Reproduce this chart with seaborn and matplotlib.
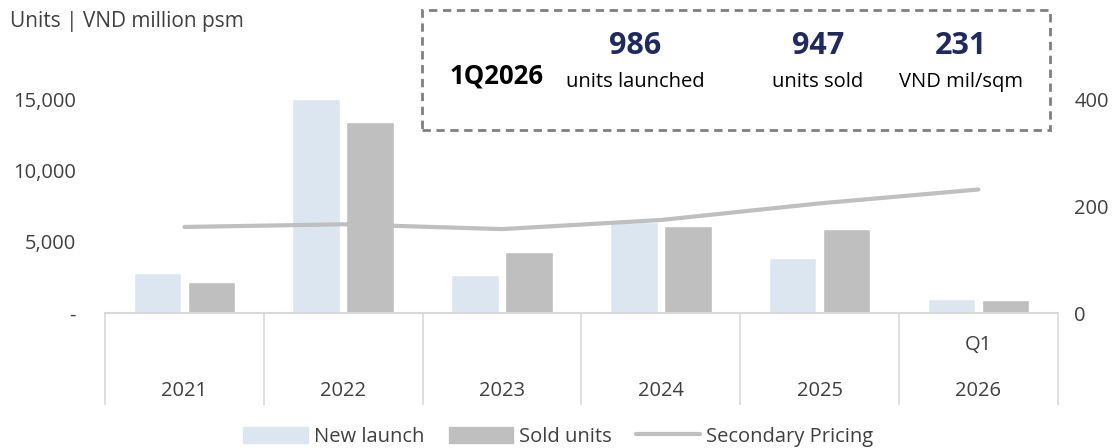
import pandas as pd
import numpy as np
import matplotlib.pyplot as plt
import matplotlib.transforms as mtransforms
from matplotlib.patches import Rectangle, Patch
from matplotlib.lines import Line2D
from matplotlib.ticker import FuncFormatter
import seaborn as sns

# data
years = ["2021", "2022", "2023", "2024", "2025", "2026"]
new_launch = [2800, 15000, 2700, 6350, 3850, 986]
sold_units = [2200, 13400, 4300, 6100, 5900, 947]
secondary_price = [161, 166, 157, 174, 205, 231]
sub_labels = ["", "", "", "", "", "Q1"]

summary_period = "1Q2026"
summary_values = ["986", "947", "231"]
summary_labels = ["units launched", "units sold", "VND mil/sqm"]

sns.set_theme(style="white")
plt.rcParams["font.family"] = ["Open Sans", "DejaVu Sans"]

text_col = "#404040"
blue_col = "#dce6f1"
grey_col = "#bfbfbf"
line_col = "#d9d9d9"
navy = "#1f2a5e"

df = pd.DataFrame({
    "year": years * 2,
    "units": new_launch + sold_units,
    "series": ["New launch"] * len(years) + ["Sold units"] * len(years),
})
price_df = pd.DataFrame({"pos": range(len(years)), "price": secondary_price})

fig = plt.figure(figsize=(11.17, 4.48), dpi=100)
ax = fig.add_axes([0.094, 0.301, 0.853, 0.478])

sns.barplot(data=df, x="year", y="units", hue="series", order=years,
            palette=[blue_col, grey_col], width=0.68, gap=0.12,
            saturation=1, legend=False, ax=ax)
ax.set_xlim(-0.5, len(years) - 0.5)
ax.set_ylim(0, 15000)
ax.set_yticks([0, 5000, 10000, 15000])
ax.yaxis.set_major_formatter(FuncFormatter(lambda v, p: "-" if v == 0 else f"{int(v):,}"))
ax.set_xticks([])
ax.set_xlabel("")
ax.set_ylabel("")
ax.tick_params(axis="y", length=0, pad=21, labelsize=14.5, labelcolor=text_col)

ax2 = ax.twinx()
sns.lineplot(data=price_df, x="pos", y="price", color=grey_col, linewidth=3,
             ax=ax2, legend=False)
ax2.set_ylim(0, 400)
ax2.set_yticks([0, 200, 400])
ax2.set_ylabel("")
ax2.set_xlabel("")
ax2.tick_params(axis="y", length=0, pad=12, labelsize=14.5, labelcolor=text_col)

for a in (ax, ax2):
    for s in ["top", "left", "right", "bottom"]:
        a.spines[s].set_visible(False)
ax.spines["bottom"].set_visible(True)
ax.spines["bottom"].set_color(line_col)
ax.spines["bottom"].set_linewidth(1.5)

# category separators and labels below the axis
trans = mtransforms.blended_transform_factory(ax.transData, ax.transAxes)
ax.vlines(np.arange(len(years) + 1) - 0.5, -0.43, 0, transform=trans,
          color=line_col, lw=1.2, clip_on=False)
for i, (yr, sub) in enumerate(zip(years, sub_labels)):
    ax.text(i, -0.365, yr, transform=trans, ha="center", va="center",
            fontsize=14.5, color=text_col)
    if sub:
        ax.text(i, -0.15, sub, transform=trans, ha="center", va="center",
                fontsize=14.5, color=text_col)

fig.text(0.009, 0.953, "Units | VND million psm", fontsize=15, color=text_col,
         ha="left", va="center")

# summary box
fig.patches.append(Rectangle((0.378, 0.71), 0.562, 0.268, transform=fig.transFigure,
                             fill=False, ls=(0, (3, 2)), lw=2, ec="#808080"))
fig.text(0.445, 0.83, summary_period, fontsize=18.5, fontweight="bold",
         color="black", ha="center", va="center")
for xc, val, lab in zip([0.569, 0.732, 0.86], summary_values, summary_labels):
    fig.text(xc, 0.897, val, fontsize=22, fontweight="bold", color=navy,
             ha="center", va="center")
    fig.text(xc, 0.818, lab, fontsize=14.5, color="black", ha="center", va="center")

handles = [Patch(color=blue_col, label="New launch"),
           Patch(color=grey_col, label="Sold units"),
           Line2D([0], [0], color=grey_col, lw=3, label="Secondary Pricing")]
fig.legend(handles=handles, loc="center", bbox_to_anchor=(0.5, 0.025), ncol=3,
           frameon=False, fontsize=14.5, labelcolor=text_col, handlelength=3.2,
           handleheight=0.9, columnspacing=1.2, handletextpad=0.3)

fig.savefig("out.png", dpi=100)
